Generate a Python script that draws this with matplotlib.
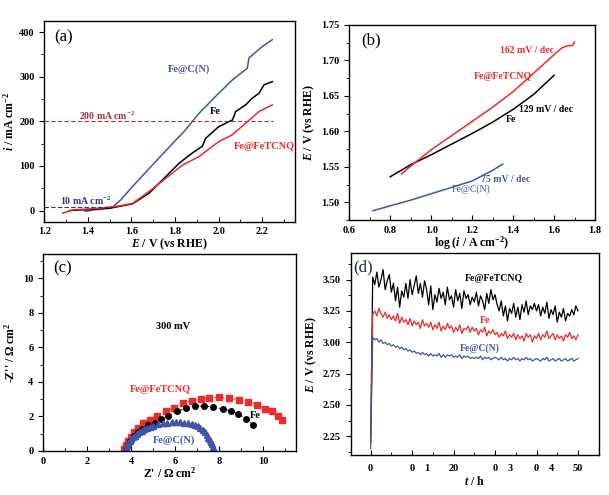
import numpy as np
import matplotlib
matplotlib.use("Agg")
import matplotlib.pyplot as plt
from matplotlib.ticker import MultipleLocator, FormatStrFormatter

plt.rcParams['font.family'] = ['Liberation Serif', 'DejaVu Serif']
plt.rcParams['font.weight'] = 'bold'
plt.rcParams['mathtext.fontset'] = 'custom'
plt.rcParams['mathtext.rm'] = 'Liberation Serif:bold'
plt.rcParams['mathtext.it'] = 'Liberation Serif:italic:bold'
plt.rcParams['mathtext.bf'] = 'Liberation Serif:bold'
plt.rcParams['axes.linewidth'] = 1.0

BLUE = '#3f56a8'
RED = '#ee2a2a'
BLACK = '#000000'

# (a) polarization curves
a_cn_E = [1.388, 1.45, 1.513, 1.551, 1.605, 1.696, 1.803, 1.841, 1.91, 1.986, 2.063, 2.131, 2.139, 2.20, 2.246]
a_cn_i = [-1.5, 3, 7.5, 24, 54, 102, 158, 177, 218, 256, 293, 319, 342, 368, 383]
a_fe_E = [1.315, 1.40, 1.498, 1.605, 1.681, 1.757, 1.818, 1.879, 1.925, 1.94, 2.0, 2.063, 2.078, 2.124, 2.154, 2.185, 2.208, 2.246]
a_fe_i = [0, 2, 5, 15, 39, 76, 106, 129, 144, 162, 188, 203, 222, 237, 252, 263, 282, 289]
a_tc_E = [1.284, 1.33, 1.452, 1.544, 1.605, 1.681, 1.757, 1.834, 1.91, 1.971, 2.002, 2.063, 2.124, 2.185, 2.246]
a_tc_i = [-6, 1.5, 5, 10.5, 16, 43, 72, 102, 121, 144, 155, 170, 196, 222, 237]

# (b) Tafel plots
b_fe_x = [0.80, 0.90, 1.00, 1.10, 1.20, 1.30, 1.40, 1.50, 1.60]
b_fe_y = [1.536, 1.553, 1.567, 1.582, 1.597, 1.613, 1.631, 1.652, 1.679]
b_tc_x = [0.855, 0.90, 1.00, 1.10, 1.20, 1.30, 1.40, 1.50, 1.60, 1.64, 1.67, 1.69, 1.70]
b_tc_y = [1.540, 1.551, 1.574, 1.594, 1.614, 1.634, 1.656, 1.682, 1.708, 1.718, 1.721, 1.721, 1.726]
b_cn_x = [0.715, 0.80, 0.90, 1.00, 1.10, 1.20, 1.30, 1.35]
b_cn_y = [1.488, 1.495, 1.503, 1.512, 1.521, 1.530, 1.545, 1.554]

# (c) Nyquist plots
c_tc_re = [3.67, 3.76, 3.86, 3.98, 4.13, 4.30, 4.55, 4.85, 5.18, 5.56, 5.95, 6.36, 6.74, 7.15, 7.55,
           7.99, 8.45, 8.90, 9.32, 9.73, 10.08, 10.38, 10.65, 10.86]
c_tc_im = [0.12, 0.35, 0.58, 0.83, 1.09, 1.36, 1.60, 1.80, 2.05, 2.29, 2.52, 2.77, 2.90, 3.00, 3.06,
           3.12, 3.06, 2.96, 2.83, 2.67, 2.44, 2.29, 2.00, 1.80]
c_fe_re = [3.75, 3.85, 3.95, 4.10, 4.30, 4.50, 4.74, 5.08, 5.35, 5.68, 6.06, 6.47, 6.89, 7.32, 7.73,
           8.15, 8.53, 8.83, 9.20, 9.55]
c_fe_im = [0.10, 0.35, 0.60, 0.88, 1.12, 1.30, 1.51, 1.60, 1.86, 2.05, 2.29, 2.48, 2.60, 2.60, 2.56,
           2.44, 2.34, 2.15, 1.86, 1.51]
c_cn_re = [3.71, 3.76, 3.81, 3.86, 3.93, 4.00, 4.06, 4.15, 4.24, 4.35, 4.47, 4.58, 4.70, 4.85, 5.00,
           5.22, 5.45, 5.64, 5.83, 6.02, 6.21, 6.40, 6.59, 6.75, 6.89, 7.01, 7.12, 7.24, 7.35, 7.43,
           7.50, 7.56, 7.62, 7.68, 7.73, 7.77]
c_cn_im = [0.12, 0.23, 0.34, 0.45, 0.59, 0.70, 0.79, 0.88, 0.97, 1.08, 1.18, 1.25, 1.32, 1.40, 1.47,
           1.54, 1.60, 1.64, 1.67, 1.67, 1.67, 1.64, 1.60, 1.56, 1.51, 1.44, 1.36, 1.23, 1.09, 0.94,
           0.78, 0.66, 0.54, 0.40, 0.25, 0.06]

# (d) chronopotentiometry
d_t = [0.0] + list(np.arange(0.5, 50.01, 0.5))
d_tc = [2.20,
        3.52, 3.46, 3.56, 3.44, 3.50, 3.58, 3.42, 3.49, 3.54, 3.40,
        3.47, 3.33, 3.44, 3.28, 3.41, 3.36, 3.47, 3.35, 3.50, 3.38,
        3.45, 3.53, 3.39, 3.47, 3.36, 3.49, 3.42, 3.30, 3.45, 3.26,
        3.38, 3.32, 3.43, 3.35, 3.40, 3.30, 3.44, 3.34, 3.37, 3.28,
        3.42, 3.33, 3.39, 3.27, 3.41, 3.35, 3.38, 3.30, 3.36, 3.32,
        3.40, 3.29, 3.37, 3.33, 3.26, 3.39, 3.31, 3.42, 3.34, 3.38,
        3.30, 3.25, 3.33, 3.21, 3.29, 3.17, 3.27, 3.23, 3.31, 3.20,
        3.28, 3.18, 3.30, 3.24, 3.33, 3.22, 3.29, 3.26, 3.31, 3.25,
        3.30, 3.21, 3.28, 3.23, 3.32, 3.19, 3.26, 3.22, 3.29, 3.16,
        3.24, 3.20, 3.27, 3.17, 3.23, 3.21, 3.26, 3.22, 3.29, 3.25]
d_fe = [2.20,
        3.22, 3.25, 3.21, 3.27, 3.23, 3.20, 3.24, 3.19, 3.22, 3.18,
        3.21, 3.17, 3.23, 3.15, 3.20, 3.16, 3.18, 3.14, 3.19, 3.13,
        3.17, 3.14, 3.16, 3.11, 3.18, 3.13, 3.15, 3.12, 3.16, 3.10,
        3.14, 3.11, 3.16, 3.09, 3.13, 3.10, 3.15, 3.11, 3.13, 3.08,
        3.12, 3.09, 3.14, 3.07, 3.11, 3.10, 3.13, 3.08, 3.12, 3.09,
        3.11, 3.06, 3.10, 3.08, 3.12, 3.05, 3.09, 3.07, 3.10, 3.06,
        3.08, 3.04, 3.07, 3.05, 3.09, 3.03, 3.06, 3.04, 3.07, 3.02,
        3.06, 3.03, 3.05, 3.01, 3.07, 3.04, 3.06, 3.00, 3.05, 3.03,
        3.07, 3.02, 3.06, 3.04, 3.09, 3.03, 3.05, 3.07, 3.02, 3.06,
        3.03, 3.05, 3.01, 3.06, 3.04, 3.08, 3.03, 3.05, 3.02, 3.06]
d_cn = [2.15,
        3.04, 3.02, 3.03, 3.00, 3.02, 2.99, 3.00, 2.98, 2.99, 2.97,
        2.98, 2.96, 2.97, 2.95, 2.96, 2.94, 2.95, 2.93, 2.94, 2.92,
        2.93, 2.91, 2.92, 2.90, 2.92, 2.90, 2.91, 2.89, 2.91, 2.89,
        2.90, 2.89, 2.91, 2.88, 2.90, 2.88, 2.90, 2.89, 2.90, 2.88,
        2.89, 2.88, 2.90, 2.87, 2.89, 2.88, 2.89, 2.87, 2.88, 2.87,
        2.88, 2.87, 2.89, 2.86, 2.88, 2.87, 2.88, 2.86, 2.87, 2.88,
        2.87, 2.86, 2.88, 2.86, 2.87, 2.85, 2.87, 2.86, 2.88, 2.86,
        2.87, 2.85, 2.87, 2.86, 2.88, 2.86, 2.87, 2.85, 2.86, 2.87,
        2.86, 2.85, 2.87, 2.86, 2.88, 2.85, 2.86, 2.87, 2.85, 2.86,
        2.87, 2.85, 2.86, 2.87, 2.85, 2.86, 2.87, 2.85, 2.86, 2.87]
d_tick_pos = [0, 10, 13.6, 20, 30, 33.6, 40, 43.6, 50]
d_tick_lab = ['0', '0', '1', '20', '0', '3', '0', '4', '50']

fig = plt.figure(figsize=(6.09, 4.95), dpi=100)
axa = fig.add_axes([0.0727, 0.5521, 0.4117, 0.4055])
axb = fig.add_axes([0.5736, 0.5556, 0.4034, 0.3939])
axc = fig.add_axes([0.0711, 0.0889, 0.4145, 0.3974])
axd = fig.add_axes([0.5759, 0.0808, 0.4072, 0.4075])

def style(ax):
    ax.tick_params(axis='y', which='both', direction='out', labelsize=7.5)
    ax.tick_params(axis='x', which='both', direction='in', labelsize=7.5, pad=4)
    ax.tick_params(which='major', length=3.5, width=0.8)
    ax.tick_params(which='minor', length=2, width=0.6)
    for lab in ax.get_xticklabels() + ax.get_yticklabels():
        lab.set_fontweight('bold')

# ---- (a)
axa.plot(a_cn_E, a_cn_i, color=BLUE, lw=1.1)
axa.plot(a_fe_E, a_fe_i, color=BLACK, lw=1.1)
axa.plot(a_tc_E, a_tc_i, color=RED, lw=1.1)
axa.plot([1.2, 2.25], [200, 200], ls='--', color='#a8303a', lw=0.8, dashes=(4, 2))
axa.plot([1.2, 1.5], [7, 7], ls='--', color='#2c3580', lw=0.8, dashes=(4, 2))
axa.set_xlim(1.2, 2.35)
axa.set_ylim(-25, 425)
axa.xaxis.set_major_locator(MultipleLocator(0.2))
axa.xaxis.set_minor_locator(MultipleLocator(0.1))
axa.yaxis.set_major_locator(MultipleLocator(100))
axa.yaxis.set_minor_locator(MultipleLocator(50))
axa.xaxis.set_major_formatter(FormatStrFormatter('%.1f'))
axa.set_xlabel(r'$E$ / V (vs RHE)', fontsize=8.5, fontweight='bold', labelpad=0)
axa.set_ylabel(r'$i$ / mA cm$^{-2}$', fontsize=8.5, fontweight='bold', labelpad=2)
axa.text(0.04, 0.96, '(a)', transform=axa.transAxes, fontsize=12, fontweight='normal', va='top', ha='left')
axa.text(1.865, 318, 'Fe@C(N)', color='#4a5aa8', fontsize=7.5, ha='center', va='center')
axa.text(1.985, 223, 'Fe', color=BLACK, fontsize=7.5, ha='center', va='center')
axa.text(2.21, 143, 'Fe@FeTCNQ', color=RED, fontsize=7.5, ha='center', va='center')
axa.text(1.36, 212, r'200 mA cm$^{-2}$', color='#a8303a', fontsize=7, ha='left', va='center')
axa.text(1.27, 23, r'10 mA cm$^{-2}$', color='#2c3580', fontsize=7, ha='left', va='center')
style(axa)

# ---- (b)
axb.plot(b_fe_x, b_fe_y, color=BLACK, lw=1.1)
axb.plot(b_tc_x, b_tc_y, color=RED, lw=1.1)
axb.plot(b_cn_x, b_cn_y, color=BLUE, lw=1.1)
axb.set_xlim(0.6, 1.8)
axb.set_ylim(1.475, 1.75)
axb.xaxis.set_major_locator(MultipleLocator(0.2))
axb.xaxis.set_minor_locator(MultipleLocator(0.1))
axb.yaxis.set_major_locator(MultipleLocator(0.05))
axb.yaxis.set_minor_locator(MultipleLocator(0.025))
axb.xaxis.set_major_formatter(FormatStrFormatter('%.1f'))
axb.yaxis.set_major_formatter(FormatStrFormatter('%.2f'))
axb.set_xlabel(r'log ($i$ / A cm$^{-2}$)', fontsize=8.5, fontweight='bold', labelpad=0)
axb.set_ylabel(r'$E$ / V (vs RHE)', fontsize=8.5, fontweight='bold', labelpad=3)
axb.text(0.05, 0.96, '(b)', transform=axb.transAxes, fontsize=12, fontweight='normal', va='top', ha='left')
axb.text(1.47, 1.714, '162 mV / dec', color=RED, fontsize=7, ha='center', va='center')
axb.text(1.35, 1.678, 'Fe@FeTCNQ', color=RED, fontsize=7, ha='center', va='center')
axb.text(1.56, 1.631, '129 mV / dec', color=BLACK, fontsize=7, ha='center', va='center')
axb.text(1.39, 1.617, 'Fe', color=BLACK, fontsize=7, ha='center', va='center')
axb.text(1.365, 1.532, '75 mV / dec', color=BLUE, fontsize=7, ha='center', va='center')
axb.text(1.195, 1.518, 'Fe@C(N)', color=BLUE, fontsize=7, ha='center', va='center', fontweight='normal')
style(axb)

# ---- (c)
axc.plot(c_tc_re, c_tc_im, color=RED, ls=(0, (2, 2)), lw=0.7, marker='s', ms=4, mec=RED, mfc=RED)
axc.plot(c_fe_re, c_fe_im, color=BLACK, ls=(0, (2, 2)), lw=0.7, marker='o', ms=4, mec=BLACK, mfc=BLACK)
axc.plot(c_cn_re, c_cn_im, color=BLUE, ls='none', marker='^', ms=4.5, mec=BLUE, mfc=BLUE, clip_on=True)
axc.set_xlim(0, 11.47)
axc.set_ylim(0, 11.4)
axc.xaxis.set_major_locator(MultipleLocator(2))
axc.xaxis.set_minor_locator(MultipleLocator(1))
axc.yaxis.set_major_locator(MultipleLocator(2))
axc.yaxis.set_minor_locator(MultipleLocator(1))
axc.set_xlabel("Z' / $\\Omega$ cm$^2$", fontsize=8.5, fontweight='bold', labelpad=0)
axc.set_ylabel("-Z'' / $\\Omega$ cm$^2$", fontsize=8.5, fontweight='bold', labelpad=4)
axc.text(0.04, 0.97, '(c)', transform=axc.transAxes, fontsize=12, fontweight='normal', va='top', ha='left')
axc.text(5.9, 7.2, '300 mV', color=BLACK, fontsize=7.5, ha='center', va='center')
axc.text(5.3, 3.55, 'Fe@FeTCNQ', color=RED, fontsize=7.5, ha='center', va='center')
axc.text(9.65, 2.05, 'Fe', color=BLACK, fontsize=7.5, ha='center', va='center')
axc.text(5.95, 0.65, 'Fe@C(N)', color=BLUE, fontsize=7.5, ha='center', va='center')
style(axc)

# ---- (d)
axd.plot(d_t, d_tc, color=BLACK, lw=0.9)
axd.plot(d_t, d_fe, color=RED, lw=0.9)
axd.plot(d_t, d_cn, color=BLUE, lw=0.9)
axd.set_xlim(-4.8, 55)
axd.set_ylim(2.10, 3.71)
axd.set_xticks([0, 10, 20, 30, 40, 50])
axd.set_xticklabels([])
axd.xaxis.set_minor_locator(MultipleLocator(5))
axd.yaxis.set_major_locator(MultipleLocator(0.25))
axd.yaxis.set_minor_locator(MultipleLocator(0.125))
axd.yaxis.set_major_formatter(FormatStrFormatter('%.2f'))
for pos, lab in zip(d_tick_pos, d_tick_lab):
    axd.text(pos, -0.045, lab, transform=axd.get_xaxis_transform(), fontsize=7.5,
             ha='center', va='top', fontweight='bold')
axd.text(0.5, -0.1, r'$t$ / h', transform=axd.transAxes, fontsize=8.5, fontweight='bold', ha='center', va='top')
axd.set_ylabel(r'$E$ / V (vs RHE)', fontsize=8.5, fontweight='bold', labelpad=3)
axd.text(0.01, 0.97, '(d)', transform=axd.transAxes, fontsize=12, fontweight='normal', va='top', ha='left',
         color='#1f2a44')
axd.text(29.7, 3.505, 'Fe@FeTCNQ', color=BLACK, fontsize=7, ha='center', va='center')
axd.text(27.5, 3.17, 'Fe', color=RED, fontsize=7, ha='center', va='center')
axd.text(26.3, 2.955, 'Fe@C(N)', color=BLUE, fontsize=7, ha='center', va='center')
style(axd)

fig.savefig('out.png', dpi=100)
